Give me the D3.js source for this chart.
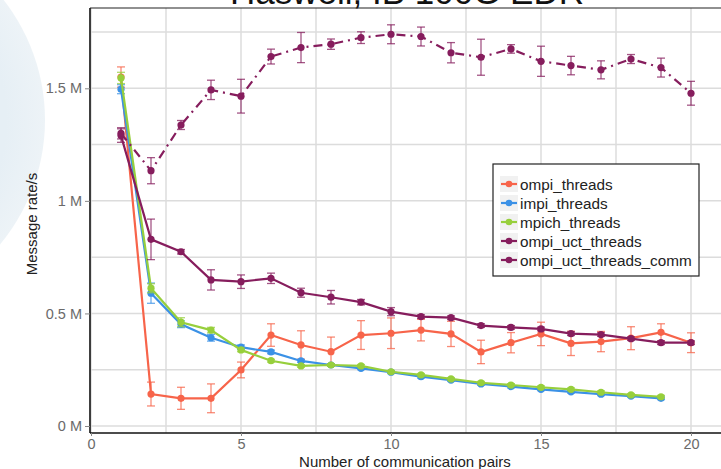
<!DOCTYPE html>
<html><head><meta charset="utf-8">
<script src="https://cdn.jsdelivr.net/npm/d3@7"></script>
<style>html,body{margin:0;padding:0;background:#fff;overflow:hidden;}svg{display:block;font-family:"Liberation Sans",Arial,sans-serif;}</style>
</head><body>
<svg id="chart" width="721" height="469"></svg>
<script>
const titleText = "Haswell, IB 100G EDR";
const xLabel = "Number of communication pairs";
const yLabel = "Message rate/s";
const xTicks = [0, 5, 10, 15, 20];
const yTicks = [0, 0.5, 1, 1.5];
const seriesNames = ["ompi_threads", "impi_threads", "mpich_threads", "ompi_uct_threads", "ompi_uct_threads_comm"];
const seriesColors = ["#f7644a", "#3b91e6", "#97cf3c", "#861d5d", "#861d5d"];
const pairs20 = [1,2,3,4,5,6,7,8,9,10,11,12,13,14,15,16,17,18,19,20];
const pairs19 = [1,2,3,4,5,6,7,8,9,10,11,12,13,14,15,16,17,18,19];
// values in millions of messages per second
const ompiThreads = [1.55,0.142,0.123,0.123,0.249,0.404,0.360,0.330,0.404,0.412,0.426,0.409,0.329,0.370,0.409,0.367,0.375,0.390,0.416,0.370];
const ompiThreadsErr = [0.045,0.053,0.049,0.064,0.035,0.050,0.063,0.065,0.064,0.068,0.048,0.056,0.052,0.045,0.052,0.054,0.045,0.051,0.038,0.044];
const impiThreads = [1.496,0.590,0.452,0.392,0.350,0.329,0.289,0.271,0.256,0.239,0.219,0.204,0.187,0.175,0.163,0.152,0.141,0.133,0.123];
const impiThreadsErr = [0.02,0.045,0.015,0.015,0.01,0.008,0.006,0.006,0.006,0.006,0.006,0.006,0.006,0.006,0.006,0.006,0.006,0.006,0.006];
const mpichThreads = [1.546,0.612,0.461,0.426,0.338,0.290,0.267,0.271,0.267,0.241,0.227,0.209,0.192,0.182,0.172,0.163,0.150,0.138,0.130];
const mpichThreadsErr = [0.025,0.02,0.02,0.012,0.008,0.006,0.006,0.006,0.006,0.006,0.006,0.006,0.006,0.006,0.006,0.006,0.006,0.006,0.006];
const uctThreads = [1.29,0.829,0.774,0.649,0.641,0.656,0.592,0.572,0.550,0.508,0.486,0.481,0.446,0.438,0.431,0.410,0.406,0.388,0.370,0.370];
const uctThreadsErr = [0.03,0.09,0.01,0.045,0.03,0.023,0.02,0.03,0.012,0.018,0.008,0.008,0.008,0.008,0.008,0.008,0.008,0.008,0.008,0.008];
const uctThreadsComm = [1.30,1.134,1.337,1.493,1.465,1.641,1.681,1.696,1.725,1.740,1.730,1.658,1.638,1.675,1.620,1.601,1.582,1.630,1.592,1.478];
const uctThreadsCommErr = [0.025,0.058,0.02,0.043,0.075,0.033,0.067,0.023,0.026,0.042,0.042,0.045,0.08,0.019,0.067,0.041,0.04,0.02,0.042,0.053];

const seriesX = [pairs20, pairs19, pairs19, pairs20, pairs20];
const seriesY = [ompiThreads, impiThreads, mpichThreads, uctThreads, uctThreadsComm];
const seriesE = [ompiThreadsErr, impiThreadsErr, mpichThreadsErr, uctThreadsErr, uctThreadsCommErr];
const seriesDash = [null, null, null, null, "9,5,2,5"];

const svg = d3.select("#chart");
const W = 721, H = 469;
const panel = {left: 90, top: 8, right: 760, bottom: 433};

// faint watermark shape at the left edge
const defs = svg.append("defs");
const rg = defs.append("radialGradient").attr("id", "wm").attr("cx", "0.5").attr("cy", "0.5").attr("r", "0.5");
rg.append("stop").attr("offset", "0.8").attr("stop-color", "#e6eff5");
rg.append("stop").attr("offset", "1").attr("stop-color", "#edf3f7");
svg.append("circle").attr("cx", -150).attr("cy", 120).attr("r", 195).attr("fill", "url(#wm)");

const x = d3.scaleLinear().domain([0, 21]).range([91, 721]);
const y = d3.scaleLinear().domain([0, 1.5]).range([426, 88.3]);

// gridlines
const g = svg.append("g");
const xGrid = d3.range(0, 22.5, 2.5);
const yGrid = d3.range(0, 2.0, 0.25);
g.selectAll(".vg").data(xGrid).join("line")
  .attr("x1", d => x(d)).attr("x2", d => x(d))
  .attr("y1", panel.top).attr("y2", panel.bottom)
  .attr("stroke", "#dcdcdc").attr("stroke-width", 1.5);
g.selectAll(".hg").data(yGrid.filter(d => y(d) > panel.top)).join("line")
  .attr("x1", panel.left).attr("x2", W)
  .attr("y1", d => y(d)).attr("y2", d => y(d))
  .attr("stroke", "#dcdcdc").attr("stroke-width", 1.5);

// title (partially cut off at top, as in the reference)
svg.append("text").attr("x", 407).attr("y", 4).attr("text-anchor", "middle")
  .attr("font-size", 35).attr("fill", "#111").text(titleText);

// series
const plot = svg.append("g");
seriesNames.forEach((name, i) => {
  const data = seriesX[i].map((xv, j) => ({x: xv, y: seriesY[i][j], e: seriesE[i][j]}));
  const col = seriesColors[i];
  const sg = plot.append("g");
  const eb = sg.append("g").attr("stroke", col).attr("stroke-opacity", 0.75).attr("stroke-width", 1.3);
  data.forEach(d => {
    eb.append("line").attr("x1", x(d.x)).attr("x2", x(d.x)).attr("y1", y(d.y - d.e)).attr("y2", y(d.y + d.e));
    eb.append("line").attr("x1", x(d.x) - 4).attr("x2", x(d.x) + 4).attr("y1", y(d.y - d.e)).attr("y2", y(d.y - d.e));
    eb.append("line").attr("x1", x(d.x) - 4).attr("x2", x(d.x) + 4).attr("y1", y(d.y + d.e)).attr("y2", y(d.y + d.e));
  });
  const line = d3.line().x(d => x(d.x)).y(d => y(d.y));
  sg.append("path").datum(data).attr("d", line).attr("fill", "none")
    .attr("stroke", col).attr("stroke-width", 2.2)
    .attr("stroke-dasharray", seriesDash[i]);
  sg.selectAll("circle").data(data).join("circle")
    .attr("cx", d => x(d.x)).attr("cy", d => y(d.y)).attr("r", 3.6).attr("fill", col);
});

// panel border lines
svg.append("line").attr("x1", panel.left).attr("x2", W).attr("y1", panel.top).attr("y2", panel.top)
  .attr("stroke", "#222").attr("stroke-width", 1.2);
svg.append("line").attr("x1", panel.left).attr("x2", panel.left).attr("y1", panel.top).attr("y2", panel.bottom)
  .attr("stroke", "#111").attr("stroke-width", 1.6);
svg.append("line").attr("x1", panel.left).attr("x2", W).attr("y1", panel.bottom).attr("y2", panel.bottom)
  .attr("stroke", "#111").attr("stroke-width", 1.6);

// y axis ticks
const yAxis = d3.axisLeft(y).tickValues(yTicks).tickSize(5).tickPadding(3)
  .tickFormat(d => d3.format("~g")(d) + " M");
const ya = svg.append("g").attr("transform", `translate(${panel.left},0)`).call(yAxis);
ya.select(".domain").remove();
ya.selectAll("line").attr("stroke", "#888");
ya.selectAll("text").attr("font-size", 14.5).attr("fill", "#6a6a6a").attr("font-family", "Liberation Sans, Arial, sans-serif");

// x axis ticks
const xAxis = d3.axisBottom(x).tickValues(xTicks).tickSize(3).tickPadding(3).tickFormat(d3.format("d"));
const xa = svg.append("g").attr("transform", `translate(0,${panel.bottom})`).call(xAxis);
xa.select(".domain").remove();
xa.selectAll("line").attr("stroke", "#888");
xa.selectAll("text").attr("font-size", 14.5).attr("fill", "#6a6a6a").attr("font-family", "Liberation Sans, Arial, sans-serif");

// axis titles
svg.append("text").attr("x", 405).attr("y", 467).attr("text-anchor", "middle")
  .attr("font-size", 15).attr("fill", "#222").text(xLabel);
svg.append("text").attr("transform", "translate(37,224) rotate(-90)").attr("text-anchor", "middle")
  .attr("font-size", 15).attr("fill", "#222").text(yLabel);

// legend
const lg = svg.append("g");
lg.append("rect").attr("x", 493).attr("y", 164).attr("width", 206).attr("height", 112)
  .attr("fill", "#fff").attr("stroke", "#222").attr("stroke-width", 1.2);
seriesNames.forEach((name, i) => {
  const ly = 184 + i * 19;
  lg.append("rect").attr("x", 500).attr("y", ly - 8).attr("width", 18).attr("height", 16).attr("fill", "#f1f1f1");
  lg.append("line").attr("x1", 501).attr("x2", 517).attr("y1", ly).attr("y2", ly)
    .attr("stroke", seriesColors[i]).attr("stroke-width", 2.2);
  lg.append("circle").attr("cx", 509).attr("cy", ly).attr("r", 3.3).attr("fill", seriesColors[i]);
  lg.append("text").attr("x", 520).attr("y", ly + 5.5).attr("font-size", 15.3).attr("fill", "#222").text(name);
});
</script>
</body></html>
